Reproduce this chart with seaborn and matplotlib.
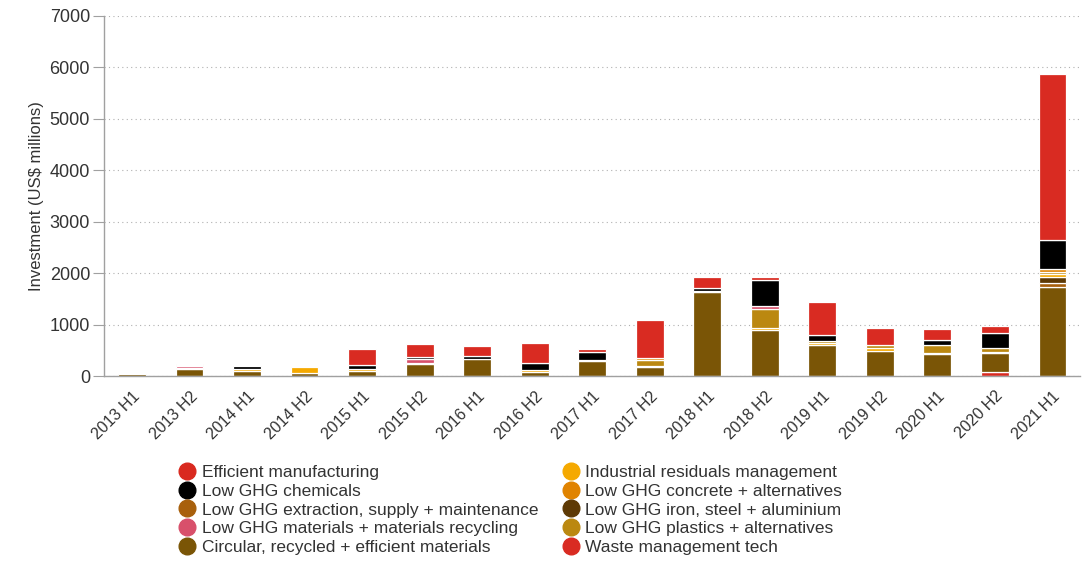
import numpy as np
import matplotlib
matplotlib.use("Agg")
import matplotlib.pyplot as plt
from matplotlib.lines import Line2D
import seaborn as sns

periods = ["2013 H1", "2013 H2", "2014 H1", "2014 H2", "2015 H1", "2015 H2",
           "2016 H1", "2016 H2", "2017 H1", "2017 H2", "2018 H1", "2018 H2",
           "2019 H1", "2019 H2", "2020 H1", "2020 H2", "2021 H1"]

# Investment per half-year, US$ millions
efficient_manufacturing = [0, 0, 0, 0, 0, 0, 0, 0, 0, 0, 0, 0, 0, 0, 0, 80, 0]
circular_materials = [40, 140, 95, 60, 100, 230, 340, 70, 300, 170, 1630, 900, 600, 490, 420, 360, 1730]
extraction_supply = [0, 0, 0, 0, 0, 0, 0, 0, 0, 0, 0, 0, 0, 0, 0, 0, 70]
iron_steel_aluminium = [0, 0, 0, 0, 0, 0, 0, 0, 0, 0, 0, 0, 0, 0, 0, 0, 130]
industrial_residuals = [0, 25, 35, 110, 30, 20, 0, 40, 20, 30, 30, 25, 35, 45, 20, 25, 50]
plastics_alternatives = [0, 0, 0, 0, 0, 0, 0, 0, 0, 110, 0, 380, 45, 60, 170, 70, 50]
concrete_alternatives = [0, 0, 0, 0, 0, 0, 0, 0, 0, 40, 0, 0, 0, 0, 0, 0, 45]
materials_recycling = [0, 25, 0, 0, 0, 80, 0, 0, 0, 0, 0, 55, 0, 0, 0, 0, 0]
ghg_chemicals = [0, 25, 65, 0, 80, 40, 40, 140, 140, 0, 60, 500, 125, 0, 90, 310, 560]
waste_management = [0, 25, 0, 0, 310, 250, 210, 390, 70, 740, 200, 60, 640, 330, 220, 130, 3235]

# (label, values, colour) in stacking order, bottom to top
stack = [
    ("Efficient manufacturing", efficient_manufacturing, "#d9291f"),
    ("Circular, recycled + efficient materials", circular_materials, "#7a5506"),
    ("Low GHG extraction, supply + maintenance", extraction_supply, "#a8600c"),
    ("Low GHG iron, steel + aluminium", iron_steel_aluminium, "#5e3a05"),
    ("Industrial residuals management", industrial_residuals, "#f5a900"),
    ("Low GHG plastics + alternatives", plastics_alternatives, "#bb8810"),
    ("Low GHG concrete + alternatives", concrete_alternatives, "#e08300"),
    ("Low GHG materials + materials recycling", materials_recycling, "#d8506b"),
    ("Low GHG chemicals", ghg_chemicals, "#000000"),
    ("Waste management tech", waste_management, "#d92b22"),
]

legend_order = [
    "Efficient manufacturing",
    "Low GHG chemicals",
    "Low GHG extraction, supply + maintenance",
    "Low GHG materials + materials recycling",
    "Circular, recycled + efficient materials",
    "Industrial residuals management",
    "Low GHG concrete + alternatives",
    "Low GHG iron, steel + aluminium",
    "Low GHG plastics + alternatives",
    "Waste management tech",
]

sns.set_theme(style="white")
plt.rcParams["font.family"] = ["Liberation Sans", "DejaVu Sans"]

fig = plt.figure(figsize=(10.82, 5.73), dpi=100)
ax = fig.add_axes([0.0961, 0.3438, 0.9025, 0.6284])

bottom = np.zeros(len(periods))
x_all = np.array(periods)
for label, vals, color in stack:
    v = np.array(vals, dtype=float)
    mask = v > 0
    if mask.any():
        sns.barplot(x=x_all[mask], y=v[mask], bottom=bottom[mask], order=periods,
                    color=color, saturation=1, width=0.48, edgecolor="white",
                    linewidth=0.9, ax=ax)
    bottom += v

ax.set_xlim(-0.49, len(periods) - 0.51)
ax.set_ylim(0, 7000)
ax.set_yticks(range(0, 7001, 1000))
ax.yaxis.grid(True, linestyle=(0, (1, 3)), color="#b0b0b0", linewidth=0.8)
ax.xaxis.grid(False)
ax.set_axisbelow(True)

for side in ["top", "right"]:
    ax.spines[side].set_visible(False)
for side in ["left", "bottom"]:
    ax.spines[side].set_color("#a0a0a0")
    ax.spines[side].set_linewidth(1.0)

ax.tick_params(axis="y", which="both", left=True, length=8, width=0.8,
               color="#a0a0a0", labelsize=13, labelcolor="#333333", pad=2)
ax.tick_params(axis="x", bottom=False, labelsize=11.5, labelcolor="#333333", pad=3)
ax.set_xticks(range(len(periods)))
ax.set_xticklabels(periods, rotation=45, ha="right", rotation_mode="anchor")
ax.set_xlabel("")
ax.set_ylabel("Investment (US$ millions)", fontsize=12, color="#333333", labelpad=4)

colors = {label: color for label, _, color in stack}
handles = [Line2D([0], [0], marker="o", linestyle="none", markersize=12,
                  markerfacecolor=colors[l], markeredgecolor=colors[l]) for l in legend_order]
fig.legend(handles, legend_order, ncol=2, loc="upper left",
           bbox_to_anchor=(0.1556, 0.204), frameon=False, fontsize=12.5,
           labelspacing=0.21, handletextpad=0.22, handlelength=1.2,
           columnspacing=1.29, borderpad=0, labelcolor="#333333")

fig.savefig("out.png", dpi=100)
